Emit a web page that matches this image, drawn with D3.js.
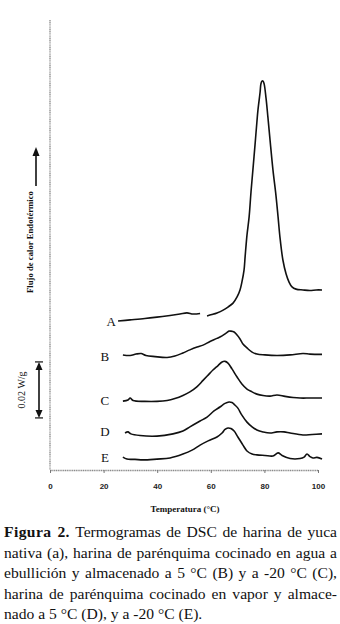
<!DOCTYPE html>
<html><head><meta charset="utf-8">
<script src="https://cdn.jsdelivr.net/npm/d3@7"></script>
<style>
html,body{margin:0;padding:0;background:#fff;}
#wrap{position:relative;width:340px;height:624px;overflow:hidden;}
svg{position:absolute;left:0;top:0;}
#cap{position:absolute;left:4px;top:522px;width:333px;font-family:"Liberation Serif","Times New Roman",serif;font-size:15.6px;line-height:20.6px;color:#111;}
#cap div{text-align:justify;text-align-last:justify;white-space:nowrap;}
#cap div.last{text-align-last:left;}
#cap b{letter-spacing:0.4px;}
</style></head><body>
<div id="wrap"><svg id="chart" width="340" height="624"></svg>
<div id="cap"></div></div>
<script>
// Temperature ticks (°C)
const xTicks = [0, 20, 40, 60, 80, 100];
const curveNames = ["A", "B", "C", "D", "E"];
// Heat flow (mW/g, arbitrary offset), [T °C, value]; null = gap in trace
const curveA = [[25.4,53.2],[29.9,53.6],[35.4,54.1],[39.9,54.6],[44.8,55.2],[48.5,55.7],[51.1,56.1],[53.4,55.7],[56.0,55.9],[57.3,null],[58.6,55.0],[60.4,55.5],[62.3,56.1],[64.6,57.1],[66.4,58.2],[68.3,59.6],[69.8,61.8],[70.9,64.3],[71.6,67.1],[72.4,71.4],[72.8,76.1],[73.5,83.9],[74.3,90.4],[75.0,99.3],[75.7,107.1],[76.5,116.1],[77.2,124.3],[77.6,128.6],[78.4,135.0],[78.7,137.9],[79.1,138.9],[79.5,138.9],[79.9,137.9],[80.6,132.9],[81.3,126.1],[82.1,117.9],[83.2,107.1],[84.3,98.2],[85.1,90.4],[85.8,83.2],[86.9,75.0],[88.1,70.0],[89.2,67.1],[90.3,65.4],[91.8,64.6],[94.4,64.3],[97.0,64.1],[99.3,64.3],[101.5,64.3]];
const curveB = [[27.2,41.1],[29.9,40.9],[32.1,41.4],[34.0,41.6],[35.8,40.9],[39.2,40.5],[43.7,40.2],[46.6,40.7],[49.6,41.8],[52.2,42.9],[54.9,43.9],[57.1,44.6],[59.7,45.9],[62.3,47.0],[64.2,47.9],[65.7,48.9],[66.8,49.6],[67.5,49.6],[68.7,49.3],[69.8,48.2],[70.9,46.8],[72.0,45.0],[73.5,43.6],[75.4,42.1],[77.2,41.4],[80.2,41.1],[84.7,40.9],[89.6,41.1],[94.4,41.6],[97.0,41.4],[101.5,41.3]];
const curveC = [[27.2,24.6],[29.1,25.0],[29.9,25.7],[31.0,24.8],[35.4,24.5],[39.9,24.5],[43.7,24.8],[46.6,25.5],[49.6,26.6],[52.2,27.9],[54.9,29.8],[57.1,32.0],[59.0,33.9],[60.8,35.7],[62.7,37.3],[64.2,38.6],[65.3,38.8],[66.4,38.2],[67.9,36.1],[69.8,33.2],[71.6,30.7],[73.5,28.9],[75.4,27.9],[77.2,27.1],[79.5,26.6],[82.1,26.4],[84.7,26.8],[87.7,26.3],[90.7,25.9],[93.3,25.7],[97.0,25.7],[101.5,25.7]];
const curveD = [[28.0,13.2],[29.1,13.6],[30.2,12.9],[33.6,12.3],[39.9,12.1],[45.9,12.9],[49.6,13.9],[52.2,15.4],[56.0,17.5],[58.6,18.9],[61.2,21.1],[63.4,22.5],[65.3,23.8],[66.8,24.3],[67.9,24.1],[69.0,23.2],[70.1,22.1],[71.6,19.6],[73.5,17.1],[75.4,15.4],[77.2,14.3],[79.5,13.6],[82.1,13.2],[84.7,13.6],[87.3,13.6],[89.6,13.2],[94.4,12.5],[97.8,12.7],[101.5,12.9]];
const curveE = [[27.2,4.6],[28.7,3.9],[31.7,3.8],[34.7,3.6],[39.9,3.9],[44.8,4.3],[49.6,5.7],[53.0,7.1],[56.0,8.9],[59.0,10.4],[62.3,11.8],[64.2,13.2],[65.3,14.5],[66.4,15.0],[67.5,14.8],[68.7,13.9],[70.1,11.8],[72.0,8.9],[73.5,6.8],[75.4,5.7],[77.2,5.4],[80.2,5.2],[83.2,5.0],[85.1,6.1],[86.6,5.2],[89.6,4.1],[93.3,4.1],[94.8,4.6],[95.9,5.7],[97.0,4.8],[98.1,4.3],[99.6,4.5],[101.5,3.9]];
const labelT = [22.8, 20.5, 20.5, 20.5, 20.5];
const labelV = [53.2, 40.4, 25.0, 13.6, 4.6];
const scaleBar = [18.6, 38.6]; // 0.02 W/g = 20 mW/g
const captionLines = [
  "<b>Figura 2.</b> Termogramas de DSC de harina de yuca",
  "nativa (a), harina de parénquima cocinado en agua a",
  "ebullición y almacenado a 5 °C (B) y a -20 °C (C),",
  "harina de parénquima cocinado en vapor y almace-",
  "nado a 5 °C (D), y a -20 °C (E)."
];

const curves = [curveA, curveB, curveC, curveD, curveE];
const svg = d3.select("#chart");
const x = d3.scaleLinear().domain([0, 100]).range([50, 318]);
const y = d3.scaleLinear().domain([0, 160]).range([470, 22]);
const serif = "'Liberation Serif','Times New Roman',serif";

// y axis (dotted gray)
svg.append("line").attr("x1", 50).attr("x2", 50).attr("y1", 20).attr("y2", 470)
  .attr("stroke", "#8a8a8a").attr("stroke-width", 1.3).attr("stroke-dasharray", "1.2,0.6");

// x axis
const xa = svg.append("g").attr("transform", "translate(0,470)")
  .call(d3.axisBottom(x).tickValues(xTicks).tickSize(3).tickPadding(10).tickSizeOuter(0));
xa.select(".domain").attr("stroke", "#8a8a8a").attr("stroke-width", 1.3).attr("stroke-dasharray", "1.2,0.6");
xa.selectAll(".tick line").attr("stroke", "#777");
xa.selectAll("text").attr("font-family", "'Liberation Sans',Arial,sans-serif").attr("font-size", 8)
  .attr("font-weight", "bold").attr("fill", "#222");

svg.append("text").attr("x", 185).attr("y", 512).attr("text-anchor", "middle")
  .attr("font-family", serif).attr("font-size", 9).attr("font-weight", "bold").attr("fill", "#111")
  .text("Temperatura (°C)");

// curves
const line = d3.line().defined(d => d[1] !== null).x(d => x(d[0])).y(d => y(d[1]))
  .curve(d3.curveCatmullRom.alpha(0.5));
curves.forEach((c, i) => {
  svg.append("path").datum(c).attr("d", line).attr("fill", "none")
    .attr("stroke", "#111").attr("stroke-width", 1.6).attr("stroke-linejoin", "round");
  svg.append("text").attr("x", x(labelT[i])).attr("y", y(labelV[i]) + 4.5)
    .attr("text-anchor", "middle").attr("font-family", serif).attr("font-size", 13).attr("fill", "#111")
    .text(curveNames[i]);
});

// endothermic arrow + label
svg.append("line").attr("x1", 36).attr("x2", 36).attr("y1", 186).attr("y2", 154)
  .attr("stroke", "#111").attr("stroke-width", 1.6);
svg.append("path").attr("d", "M36,147 L32.5,156 L39.5,156 Z").attr("fill", "#111");
svg.append("text").attr("transform", "translate(33,242) rotate(-90)").attr("text-anchor", "middle")
  .attr("font-family", serif).attr("font-size", 8.7).attr("font-weight", "bold").attr("fill", "#111")
  .text("Flujo de calor Endotérmico");

// scale bar
const yt = y(scaleBar[1]), yb = y(scaleBar[0]);
svg.append("line").attr("x1", 39).attr("x2", 39).attr("y1", yt + 6).attr("y2", yb - 6)
  .attr("stroke", "#111").attr("stroke-width", 1.6);
svg.append("path").attr("d", `M39,${yt} L35.5,${yt + 8} L42.5,${yt + 8} Z`).attr("fill", "#111");
svg.append("path").attr("d", `M39,${yb} L35.5,${yb - 8} L42.5,${yb - 8} Z`).attr("fill", "#111");
[yt, yb].forEach(v => svg.append("line").attr("x1", 35).attr("x2", 43).attr("y1", v).attr("y2", v)
  .attr("stroke", "#111").attr("stroke-width", 1.2));
svg.append("text").attr("transform", `translate(25,${(yt + yb) / 2}) rotate(-90)`).attr("text-anchor", "middle")
  .attr("font-family", serif).attr("font-size", 10).attr("fill", "#111").text("0.02 W/g");

// caption
const cap = d3.select("#cap");
captionLines.forEach((t, i) => cap.append("div").attr("class", i === captionLines.length - 1 ? "last" : null).html(t));
</script></body></html>
